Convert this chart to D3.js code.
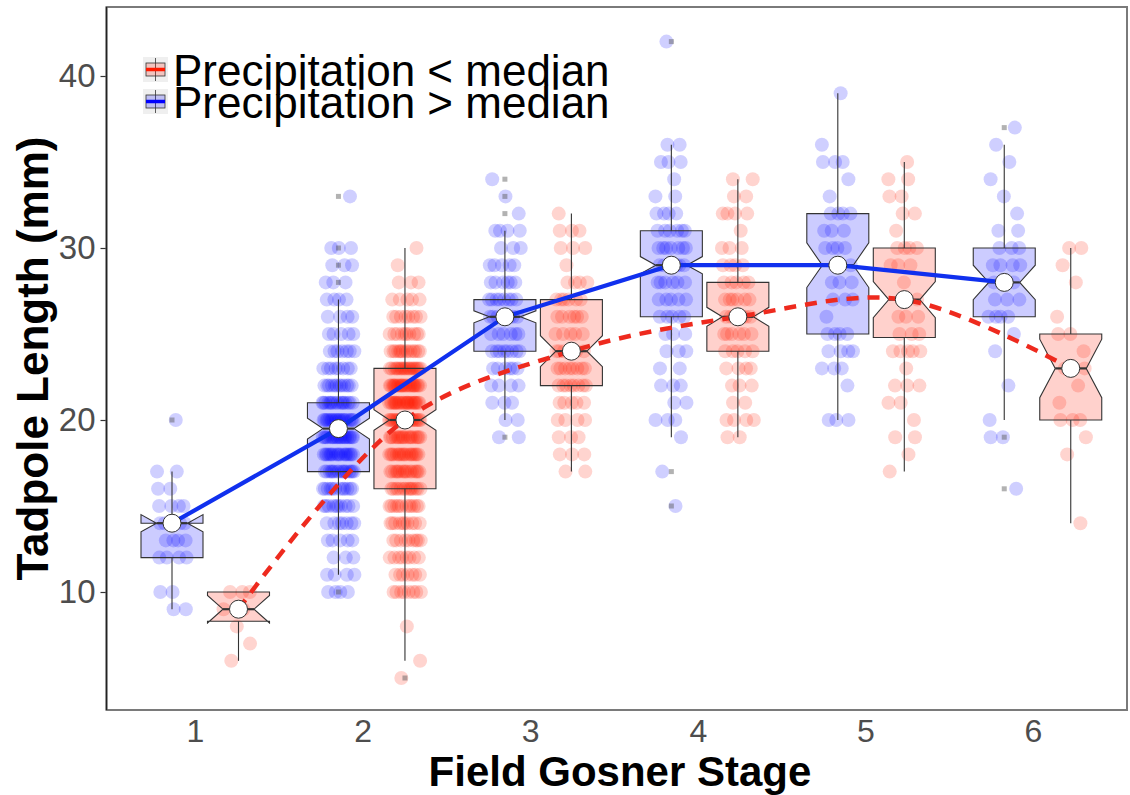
<!DOCTYPE html>
<html>
<head>
<meta charset="utf-8">
<script src="https://cdn.jsdelivr.net/npm/d3@7"></script>
<style>
  body { margin: 0; background: #fff; }
  svg text { font-family: "Liberation Sans", Arial, Helvetica, sans-serif; }
</style>
</head>
<body>
<div id="chart"></div>
<script>
// stages and axis ticks
const stages = [1, 2, 3, 4, 5, 6];
const yTicks = [10, 20, 30, 40];
const seriesNames = ["Precipitation < median", "Precipitation > median"];

// box statistics (mm)
const blueQ1 = [12, 17, 24, 26, 25, 26];
const blueMedian = [14, 19.5, 26, 29, 29, 28];
const blueQ3 = [14, 21, 27, 31, 32, 30];
const blueLow = [9, 11, 20, 19, 20, 20];
const blueHigh = [17, 27, 31, 36, 39, 36];
const blueNotch = [0.5, 0.6, 0.35, 0.5, 1.3, 1.0];

const redQ1 = [8.3, 16, 22, 24, 24.8, 20];
const redMedian = [9, 20, 24, 26, 27, 23];
const redQ3 = [10, 23, 27, 28, 30, 25];
const redLow = [6, 6, 17, 19, 17, 14];
const redHigh = [10, 30, 32, 34, 35, 30];
const redNotch = [0.8, 0.6, 0.9, 0.55, 1.05, 1.7];

// observations: [length, count] per stage
const bluePoints = [
  [[20,1],[17,2],[16,2],[15,4],[14,5],[13,4],[12,4],[10,2],[9,2]],
  [[33,1],[30,3],[29,3],[28,3],[27,4],[26,4],[25,5],[24,7],[23,8],[22,12],[21,16],[20,20],[19,20],[18,18],[17,16],[16,12],[15,10],[14,7],[13,5],[12,3],[11,4],[10,4]],
  [[34,1],[33,1],[32,1],[31,4],[30,3],[29,5],[28,6],[27,8],[26,8],[25,6],[24,8],[23,6],[22,4],[21,3],[20,2],[19,2]],
  [[42,1],[36,2],[35,3],[34,1],[33,2],[32,4],[31,6],[30,7],[29,6],[28,6],[27,5],[26,5],[25,3],[24,3],[23,2],[22,3],[21,2],[20,3],[19,1],[17,1],[15,1]],
  [[39,1],[36,1],[35,3],[34,1],[33,1],[32,4],[31,3],[30,4],[29,2],[28,3],[27,3],[26,1],[25,4],[24,4],[23,3],[22,1],[20,3]],
  [[37,1],[36,1],[35,1],[34,1],[33,1],[32,1],[31,2],[30,3],[29,4],[28,3],[27,3],[26,4],[25,1],[24,1],[22,1],[20,1],[19,2],[16,1]]
];
const redPoints = [
  [[10,3],[9,2],[8,1],[7,1],[6,1]],
  [[30,1],[29,1],[28,3],[27,5],[26,8],[25,10],[24,14],[23,20],[22,24],[21,24],[20,22],[19,18],[18,18],[17,16],[16,14],[15,12],[14,10],[13,9],[12,8],[11,7],[10,8],[8,1],[6,1],[5,1]],
  [[32,1],[31,3],[30,3],[29,1],[28,4],[27,6],[26,6],[25,5],[24,7],[23,8],[22,8],[21,5],[20,4],[19,3],[18,3],[17,2]],
  [[34,2],[33,2],[32,4],[31,1],[30,3],[29,4],[28,5],[27,6],[26,7],[25,6],[24,5],[23,4],[22,3],[21,2],[20,4],[19,2]],
  [[35,1],[34,2],[33,2],[32,2],[31,1],[30,4],[29,3],[28,1],[27,2],[26,3],[25,3],[24,5],[23,1],[22,3],[21,2],[20,1],[19,2],[18,1],[17,1]],
  [[30,2],[29,1],[28,1],[26,1],[25,2],[24,1],[23,2],[22,1],[21,1],[20,3],[19,1],[18,1],[14,1]]
];

const W = 1130, H = 795;
const panel = { left: 106.5, top: 7, right: 1127, bottom: 710 };

const svg = d3.select("#chart").append("svg")
    .attr("width", W)
    .attr("height", H);

// scales
const y = d3.scaleLinear().domain([10, 40]).range([592, 76]);
const xGroup = d3.scaleLinear().domain([1, 6]).range([205.25, 1037.5]); // dodge group centres
const xTick = d3.scaleLinear().domain([1, 6]).range([195, 1033]);      // axis labels
const dodge = 33.25;
const boxW = 62;

const blueCol = "#0000ff", redCol = "#ff1a00";

const groups = [
  { name: "blue", col: blueCol, off: -dodge, q1: blueQ1, med: blueMedian, q3: blueQ3, lo: blueLow, hi: blueHigh, notch: blueNotch, pts: bluePoints },
  { name: "red", col: redCol, off: dodge, q1: redQ1, med: redMedian, q3: redQ3, lo: redLow, hi: redHigh, notch: redNotch, pts: redPoints }
];

// y axis (ticks + labels)
const yAxis = svg.append("g")
    .attr("transform", `translate(${panel.left},0)`)
    .call(d3.axisLeft(y).tickValues(yTicks).tickSize(6).tickPadding(5));
yAxis.select(".domain").remove();
yAxis.selectAll("line").attr("stroke", "#333").attr("stroke-width", 1.2);
yAxis.selectAll("text").attr("fill", "#4d4d4d").style("font-size", "33px")
    .style("font-family", "Liberation Sans, Arial, sans-serif");

// x axis labels
const xAxis = svg.append("g")
    .attr("transform", `translate(0,${panel.bottom})`)
    .call(d3.axisBottom(xTick).tickValues(stages).tickSize(0).tickPadding(9).tickFormat(d3.format("d")));
xAxis.select(".domain").remove();
xAxis.selectAll("text").attr("fill", "#4d4d4d").style("font-size", "32px")
    .style("font-family", "Liberation Sans, Arial, sans-serif");

// panel border
svg.append("rect")
    .attr("x", panel.left).attr("y", panel.top)
    .attr("width", panel.right - panel.left).attr("height", panel.bottom - panel.top)
    .attr("fill", "none").attr("stroke", "#7a7a7a").attr("stroke-width", 2);
svg.append("line")
    .attr("x1", panel.left).attr("x2", panel.left)
    .attr("y1", panel.top).attr("y2", panel.bottom)
    .attr("stroke", "#222").attr("stroke-width", 1.5);

// jitter pattern for duplicate values (deterministic spread)
function spread(k, row) {
  const f = ((k + 1) * 0.6180339887 + row * 0.4142) % 1;
  return f * 2 - 1;
}

const plot = svg.append("g");

// jittered points
groups.forEach(g => {
  const layer = plot.append("g").attr("class", "pts-" + g.name);
  g.pts.forEach((rows, si) => {
    const cx = xGroup(stages[si]) + g.off;
    rows.forEach(([v, n], ri) => {
      for (let k = 0; k < n; k++) {
        layer.append("circle")
            .attr("cx", cx + spread(k, ri + si * 3) * 16)
            .attr("cy", y(v))
            .attr("r", 7)
            .attr("fill", g.col)
            .attr("fill-opacity", 0.19);
      }
    });
  });
});

// notched boxes + whiskers + outlier marks
groups.forEach(g => {
  const layer = plot.append("g").attr("class", "box-" + g.name);
  stages.forEach((s, i) => {
    const cx = xGroup(s) + g.off;
    const x0 = cx - boxW / 2, x1 = cx + boxW / 2, ind = boxW / 4;
    const m = g.med[i], nu = m + g.notch[i], nl = m - g.notch[i];

    // whiskers
    layer.append("line").attr("x1", cx).attr("x2", cx)
        .attr("y1", y(g.q3[i])).attr("y2", y(g.hi[i]))
        .attr("stroke", "#333").attr("stroke-width", 1.1);
    layer.append("line").attr("x1", cx).attr("x2", cx)
        .attr("y1", y(g.q1[i])).attr("y2", y(g.lo[i]))
        .attr("stroke", "#333").attr("stroke-width", 1.1);

    const poly = [
      [x0, y(g.q3[i])], [x0, y(nu)], [x0 + ind, y(m)], [x0, y(nl)], [x0, y(g.q1[i])],
      [x1, y(g.q1[i])], [x1, y(nl)], [x1 - ind, y(m)], [x1, y(nu)], [x1, y(g.q3[i])]
    ];
    layer.append("path")
        .attr("d", d3.line()(poly) + "Z")
        .attr("fill", g.col).attr("fill-opacity", 0.2)
        .attr("stroke", "#333").attr("stroke-width", 1.1);
    layer.append("line")
        .attr("x1", x0 + ind).attr("x2", x1 - ind)
        .attr("y1", y(m)).attr("y2", y(m))
        .attr("stroke", "#333").attr("stroke-width", 2.2);

    // outliers: observations outside the whiskers
    g.pts[i].filter(([v]) => v > g.hi[i] || v < g.lo[i]).forEach(([v]) => {
      layer.append("rect")
          .attr("x", cx - 2.5).attr("y", y(v) - 2.5)
          .attr("width", 5).attr("height", 5)
          .attr("fill", "#555").attr("fill-opacity", 0.45);
    });
  });
});

// median trend lines
plot.append("path")
    .datum(stages.map((s, i) => [xGroup(s) - dodge, y(blueMedian[i])]))
    .attr("d", d3.line())
    .attr("fill", "none").attr("stroke", "#1030ee").attr("stroke-width", 4.2);

plot.append("path")
    .datum(stages.map((s, i) => [xGroup(s) + dodge, y(redMedian[i])]))
    .attr("d", d3.line().curve(d3.curveCatmullRom.alpha(0.5)))
    .attr("fill", "none").attr("stroke", "#ee2a1e").attr("stroke-width", 4.5)
    .attr("stroke-dasharray", "12,9");

// median markers
groups.forEach(g => {
  plot.append("g").selectAll("circle")
    .data(stages)
    .enter().append("circle")
      .attr("cx", s => xGroup(s) + g.off)
      .attr("cy", (s, i) => y(g.med[i]))
      .attr("r", 9)
      .attr("fill", "#fff")
      .attr("stroke", "#333")
      .attr("stroke-width", 1);
});

// axis titles
svg.append("text")
    .attr("x", 620).attr("y", 786)
    .attr("text-anchor", "middle")
    .style("font-size", "42px").style("font-weight", "bold")
    .text("Field Gosner Stage");

svg.append("text")
    .attr("transform", `translate(48,${(panel.top + panel.bottom) / 2}) rotate(-90)`)
    .attr("text-anchor", "middle")
    .style("font-size", "44px").style("font-weight", "bold")
    .text("Tadpole Length (mm)");

// legend
const legendCols = [redCol, blueCol];
const legend = svg.append("g").attr("transform", "translate(143,57)");
seriesNames.forEach((name, i) => {
  const g = legend.append("g").attr("transform", `translate(0,${i * 32})`);
  g.append("rect").attr("width", 25).attr("height", 25).attr("fill", "#efefef");
  g.append("line").attr("x1", 12.5).attr("x2", 12.5).attr("y1", 1).attr("y2", 24)
      .attr("stroke", "#333").attr("stroke-width", 0.8);
  g.append("rect").attr("x", 3).attr("y", 6).attr("width", 19).attr("height", 13)
      .attr("fill", legendCols[i]).attr("fill-opacity", 0.2)
      .attr("stroke", "#333").attr("stroke-width", 0.8);
  g.append("line").attr("x1", 3).attr("x2", 22).attr("y1", 12.5).attr("y2", 12.5)
      .attr("stroke", legendCols[i]).attr("stroke-width", 3.5);
  g.append("text")
      .attr("x", 30).attr("y", 29)
      .style("font-size", "44px")
      .text(name);
});
</script>
</body>
</html>
